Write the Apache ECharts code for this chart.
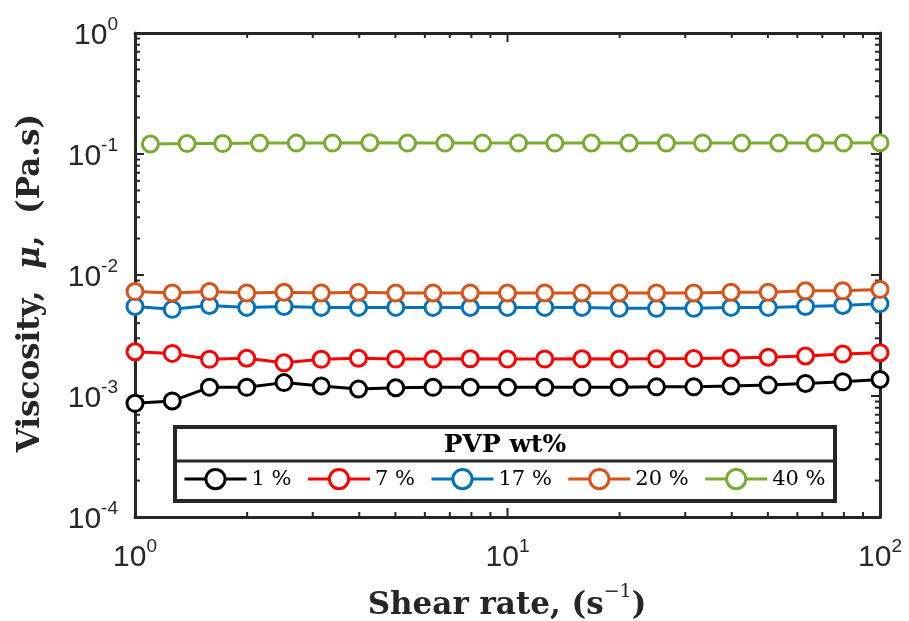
<!DOCTYPE html>
<html>
<head>
<meta charset="utf-8">
<script src="https://cdn.jsdelivr.net/npm/echarts@6/dist/echarts.min.js"></script>
<style>html,body{margin:0;padding:0;background:#fff}#c{width:909px;height:621px}</style>
</head>
<body>
<div id="c"></div>
<script>
// ---- data ----
const seriesNames = ['1 %', '7 %', '17 %', '20 %', '40 %'];
const shearRate = [1, 1.259, 1.585, 1.995, 2.512, 3.162, 3.981, 5.012, 6.31, 7.943, 10, 12.59, 15.85, 19.95, 25.12, 31.62, 39.81, 50.12, 63.1, 79.43, 100];
const shearRate40 = [1.1, 1.38, 1.72, 2.16, 2.71, 3.39, 4.27, 5.39, 6.79, 8.57, 10.7, 13.4, 16.8, 21.2, 26.7, 33.4, 42.5, 53.5, 66.9, 79.8, 100];
const visc1 = [0.00087, 0.00091, 0.00118, 0.00118, 0.00129, 0.00121, 0.00114, 0.00117, 0.00118, 0.00118, 0.00118, 0.00118, 0.00118, 0.00118, 0.00119, 0.00119, 0.00121, 0.00123, 0.00127, 0.00131, 0.00137];
const visc7 = [0.00232, 0.00225, 0.00201, 0.00205, 0.00188, 0.00201, 0.00205, 0.00202, 0.00202, 0.00203, 0.00202, 0.00202, 0.00203, 0.00202, 0.00203, 0.00204, 0.00206, 0.00209, 0.00214, 0.00222, 0.00228];
const visc17 = [0.0055, 0.0052, 0.0056, 0.0054, 0.0055, 0.0054, 0.0054, 0.0054, 0.0054, 0.0054, 0.0054, 0.0054, 0.0054, 0.0053, 0.0053, 0.0053, 0.0054, 0.0054, 0.0055, 0.0056, 0.0058];
const visc20 = [0.0073, 0.0071, 0.0073, 0.0071, 0.0072, 0.0071, 0.0072, 0.0071, 0.0071, 0.0071, 0.0071, 0.0071, 0.0071, 0.0071, 0.0071, 0.0071, 0.0072, 0.0072, 0.0074, 0.0074, 0.0076];
const visc40 = [0.121, 0.122, 0.122, 0.123, 0.123, 0.123, 0.124, 0.123, 0.123, 0.123, 0.123, 0.123, 0.123, 0.123, 0.123, 0.123, 0.123, 0.123, 0.123, 0.123, 0.124];
const xMajorTicks = [1, 10, 100];
const yMajorTicks = [0.0001, 0.001, 0.01, 0.1, 1];
const xMinorTicks = [2, 3, 4, 5, 6, 7, 8, 9, 20, 30, 40, 50, 60, 70, 80, 90];
const yMinorTicks = [0.0002, 0.0003, 0.0004, 0.0005, 0.0006, 0.0007, 0.0008, 0.0009, 0.002, 0.003, 0.004, 0.005, 0.006, 0.007, 0.008, 0.009, 0.02, 0.03, 0.04, 0.05, 0.06, 0.07, 0.08, 0.09, 0.2, 0.3, 0.4, 0.5, 0.6, 0.7, 0.8, 0.9];
const legendTitle = 'PVP wt%';
const xTitle = '{t|Shear rate, (s}{sp|\u22121}{t|)}';
const yTitle = '{t|Viscosity,  }{m|\u03bc}{t|,  (Pa.s)}';

const colors = ['#000000', '#FF0000', '#0072BD', '#D95319', '#77AC30'];
const axisColor = '#262626';

function zip(xs, ys) { return xs.map((x, i) => [x, ys[i]]); }
const seriesData = [
  zip(shearRate, visc1), zip(shearRate, visc7), zip(shearRate, visc17),
  zip(shearRate, visc20), zip(shearRate40, visc40)
];

// tick rows: [x value, y value, axis (0 = x, 1 = y), major (1) / minor (0)]
const tickRows = []
  .concat(xMajorTicks.map(v => [v, 0.01, 0, 1]))
  .concat(xMinorTicks.map(v => [v, 0.01, 0, 0]))
  .concat(yMajorTicks.map(v => [10, v, 1, 1]))
  .concat(yMinorTicks.map(v => [10, v, 1, 0]));

function expLabel(v) {
  const e = Math.round(Math.log10(v));
  return '{b|10}{s|' + e + '}';
}
const labelRich = {
  b: { fontFamily: 'Liberation Sans', fontSize: 30, color: axisColor, lineHeight: 36, verticalAlign: 'bottom' },
  s: { fontFamily: 'Liberation Sans', fontSize: 19, color: axisColor, verticalAlign: 'top', lineHeight: 36, padding: [0, 0, 14, 0] }
};

function mkLine() { return { show: true, onZero: false, lineStyle: { color: axisColor, width: 3 } }; }

const chart = echarts.init(document.getElementById('c'));

const lineSeries = seriesNames.map((name, i) => ({
  name: name,
  type: 'line',
  xAxisIndex: 0, yAxisIndex: 0,
  data: seriesData[i],
  symbol: 'circle',
  symbolSize: 16,
  showSymbol: true,
  lineStyle: { color: colors[i], width: 3 },
  itemStyle: { color: '#ffffff', borderColor: colors[i], borderWidth: 3 },
  z: 3 + i
}));

const tickSeries = {
  type: 'custom',
  name: 'axis ticks',
  xAxisIndex: 0, yAxisIndex: 0,
  silent: true,
  clip: false,
  dimensions: ['x', 'y', 'axis', 'major'],
  encode: { x: 0, y: 1 },
  data: tickRows,
  z: 2,
  renderItem: function (params, api) {
    const cs = params.coordSys;
    const isY = api.value(2) === 1;
    const len = api.value(3) === 1 ? 9 : 5;
    const st = { stroke: axisColor, lineWidth: 2 };
    if (!isY) {
      const x = api.coord([api.value(0), api.value(1)])[0];
      return { type: 'group', children: [
        { type: 'line', shape: { x1: x, y1: cs.y + cs.height, x2: x, y2: cs.y + cs.height - len }, style: st },
        { type: 'line', shape: { x1: x, y1: cs.y, x2: x, y2: cs.y + len }, style: st }
      ] };
    }
    const y = api.coord([api.value(0), api.value(1)])[1];
    return { type: 'group', children: [
      { type: 'line', shape: { x1: cs.x, y1: y, x2: cs.x + len, y2: y }, style: st },
      { type: 'line', shape: { x1: cs.x + cs.width, y1: y, x2: cs.x + cs.width - len, y2: y }, style: st }
    ] };
  }
};

const option = {
  animation: false,
  grid: { left: 135, right: 29, top: 33, bottom: 104, containLabel: false, outerBoundsMode: 'none' },
  xAxis: [{
    type: 'log', logBase: 10, min: 1, max: 100,
    position: 'bottom',
    axisLine: mkLine(), axisTick: { show: false }, minorTick: { show: false },
    axisLabel: { margin: 20, formatter: expLabel, rich: labelRich },
    splitLine: { show: false }
  }, {
    type: 'log', logBase: 10, min: 1, max: 100,
    position: 'top',
    axisLine: mkLine(), axisTick: { show: false }, minorTick: { show: false },
    axisLabel: { show: false },
    splitLine: { show: false }
  }],
  yAxis: [{
    type: 'log', logBase: 10, min: 0.0001, max: 1,
    position: 'left',
    axisLine: mkLine(), axisTick: { show: false }, minorTick: { show: false },
    axisLabel: { margin: 17, formatter: expLabel, rich: labelRich },
    splitLine: { show: false }
  }, {
    type: 'log', logBase: 10, min: 0.0001, max: 1,
    position: 'right',
    axisLine: mkLine(), axisTick: { show: false }, minorTick: { show: false },
    axisLabel: { show: false },
    splitLine: { show: false }
  }],
  legend: {
    data: seriesNames,
    left: 183, top: 468,
    padding: 0,
    z: 30,
    itemWidth: 62, itemHeight: 24, itemGap: 15,
    lineStyle: { width: 3 },
    itemStyle: { borderWidth: 3 },
    textStyle: { fontFamily: 'DejaVu Serif', fontSize: 21, color: '#000' },
    selectedMode: false
  },
  graphic: [
    { type: 'rect', shape: { x: 175, y: 427, width: 660, height: 74 }, style: { fill: '#ffffff', stroke: axisColor, lineWidth: 4 }, z: 10 },
    { type: 'line', shape: { x1: 175, y1: 461, x2: 835, y2: 461 }, style: { stroke: axisColor, lineWidth: 3 }, z: 11 },
    { type: 'text', x: 505, y: 445, style: { text: legendTitle, fontFamily: 'DejaVu Serif', fontWeight: 'bold', fontSize: 25, fill: '#000', align: 'center', verticalAlign: 'middle' }, z: 11 },
    { type: 'text', x: 507, y: 602, style: { text: xTitle, align: 'center', verticalAlign: 'middle', rich: {
        t: { fontFamily: 'DejaVu Serif', fontWeight: 'bold', fontSize: 31, fill: axisColor, lineHeight: 38, verticalAlign: 'bottom' },
        sp: { fontFamily: 'DejaVu Serif', fontSize: 19, fill: axisColor, verticalAlign: 'top', lineHeight: 38, padding: [0, 0, 12, 0] }
      } }, z: 11 },
    { type: 'text', x: 31, y: 283, rotation: Math.PI / 2, style: { text: yTitle, align: 'center', verticalAlign: 'middle', rich: {
        t: { fontFamily: 'DejaVu Serif', fontWeight: 'bold', fontSize: 31, fill: axisColor },
        m: { fontFamily: 'DejaVu Serif', fontWeight: 'bold', fontStyle: 'italic', fontSize: 31, fill: axisColor }
      } }, z: 11 }
  ],
  series: lineSeries.concat([tickSeries])
};
chart.setOption(option);
</script>
</body>
</html>
